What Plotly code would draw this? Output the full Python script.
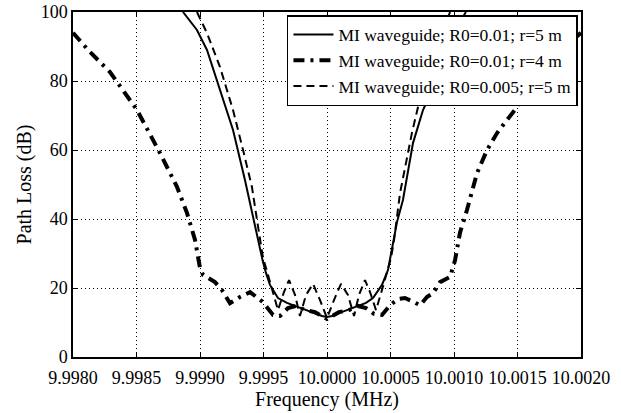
import plotly.graph_objects as go

# Frequency (MHz) and path loss (dB) for each MI waveguide configuration
freq_r0_01_r5 = [9.998866, 9.998976, 9.999055, 9.999157, 9.999260, 9.999354, 9.999417,
                 9.999472, 9.999496, 9.999520, 9.999551, 9.999614, 9.999685, 9.999748,
                 9.999811, 9.999866, 9.999921, 9.999961, 10.000000, 10.000039, 10.000079,
                 10.000134, 10.000181, 10.000244, 10.000307, 10.000362, 10.000433,
                 10.000480, 10.000520, 10.000551, 10.000598, 10.000677, 10.000756,
                 10.000835, 10.000929, 10.001008, 10.001094]
loss_r0_01_r5 = [100, 94.8, 89.0, 77.4, 65.8, 51.3, 40.6, 31.9, 27.5, 24.3, 20.9, 17.1,
                 15.7, 14.8, 13.9, 13.3, 12.5, 11.9, 11.6, 11.9, 12.5, 13.3, 13.9, 14.8,
                 15.7, 17.1, 20.9, 25.2, 32.5, 39.1, 45.5, 62.0, 71.6, 78.0, 87.5, 94.8, 100]

freq_r0_01_r4 = [9.998000, 9.998134, 9.998291, 9.998504, 9.998685, 9.998819, 9.998898,
                 9.998961, 9.999000, 9.999024, 9.999118, 9.999173, 9.999236, 9.999315,
                 9.999394, 9.999449, 9.999496, 9.999575, 9.999630, 9.999693, 9.999756,
                 9.999827, 9.999906, 10.000000, 10.000094, 10.000173, 10.000244,
                 10.000307, 10.000370, 10.000433, 10.000496, 10.000559, 10.000614,
                 10.000669, 10.000732, 10.000787, 10.000835, 10.000890, 10.000969,
                 10.001008, 10.001047, 10.001102, 10.001181, 10.001260, 10.001339,
                 10.001417, 10.001480, 10.001543, 10.001583, 10.001717, 10.001850, 10.002000]
loss_r0_01_r4 = [94.0, 88.4, 82.6, 71.6, 59.1, 49.3, 41.7, 33.9, 25.8, 23.8, 21.7, 19.4,
                 15.6, 17.4, 18.8, 17.4, 15.9, 12.2, 11.9, 14.2, 14.8, 13.6, 13.0, 11.0,
                 13.0, 13.6, 14.8, 14.2, 12.5, 12.2, 15.0, 16.8, 17.1, 16.2, 15.0, 17.4,
                 18.5, 21.7, 23.2, 28.0, 36.0, 42.6, 53.3, 60.0, 64.9, 68.7, 71.6, 75.4,
                 77.4, 83.2, 89.0, 94.0]

freq_r0_005_r5 = [9.998976, 9.999055, 9.999157, 9.999260, 9.999339, 9.999409, 9.999449,
                  9.999472, 9.999496, 9.999520, 9.999567, 9.999614, 9.999661, 9.999701,
                  9.999748, 9.999787, 9.999835, 9.999890, 9.999945, 10.000000, 10.000055,
                  10.000110, 10.000165, 10.000213, 10.000252, 10.000299, 10.000339,
                  10.000386, 10.000433, 10.000480, 10.000504, 10.000528, 10.000575,
                  10.000669, 10.000748, 10.000827, 10.000906, 10.000969]
loss_r0_005_r5 = [100, 93.9, 84.1, 71.6, 60.0, 49.3, 39.7, 33.9, 28.7, 25.8, 19.4, 13.6,
                  18.8, 22.3, 18.0, 11.9, 18.0, 21.2, 16.5, 11.3, 16.5, 21.2, 18.0, 11.9,
                  18.0, 22.3, 18.8, 13.6, 19.4, 25.8, 28.7, 33.9, 47.5, 65.0, 77.4, 86.0,
                  94.0, 100]

tick_vals = [9.9980, 9.9985, 9.9990, 9.9995, 10.0000, 10.0005, 10.0010, 10.0015, 10.0020]
tick_text = ["9.9980", "9.9985", "9.9990", "9.9995", "10.0000", "10.0005",
             "10.0010", "10.0015", "10.0020"]

FONT = "Liberation Serif, Times New Roman, serif"

fig = go.Figure()
fig.add_trace(go.Scatter(x=freq_r0_01_r5, y=loss_r0_01_r5, mode="lines",
                         name="MI waveguide; R0=0.01; r=5 m",
                         line=dict(color="black", width=2)))
fig.add_trace(go.Scatter(x=freq_r0_01_r4, y=loss_r0_01_r4, mode="lines",
                         name="MI waveguide; R0=0.01; r=4 m",
                         line=dict(color="black", width=4, dash="11px,6px,3px,6px")))
fig.add_trace(go.Scatter(x=freq_r0_005_r5, y=loss_r0_005_r5, mode="lines",
                         name="MI waveguide; R0=0.005; r=5 m",
                         line=dict(color="black", width=2, dash="8px,5px")))

axis_common = dict(
    showline=True, linecolor="black", linewidth=1.5, mirror="allticks",
    ticks="inside", ticklen=5, tickcolor="black", tickwidth=1,
    showgrid=True, gridcolor="black", gridwidth=1, griddash="1px,3px",
    zeroline=False, automargin=False,
    tickfont=dict(family=FONT, size=18, color="black"),
)

fig.update_xaxes(range=[9.998, 10.002], tickvals=tick_vals, ticktext=tick_text,
                 ticklabelstandoff=4,
                 title=dict(text="Frequency (MHz)", font=dict(family=FONT, size=20, color="black"),
                            standoff=4),
                 **axis_common)
fig.update_yaxes(range=[0, 100], dtick=20,
                 title=dict(text="Path Loss (dB)", font=dict(family=FONT, size=20, color="black"),
                            standoff=4),
                 **axis_common)

fig.update_layout(
    width=621, height=413,
    margin=dict(l=73, r=40, t=12, b=56),
    paper_bgcolor="white", plot_bgcolor="white",
    font=dict(family=FONT, color="black"),
    legend=dict(x=0.994, xanchor="right", y=0.991, yanchor="top",
                bgcolor="white", bordercolor="black", borderwidth=1.5,
                font=dict(family=FONT, size=17.5, color="black"),
                itemwidth=40, tracegroupgap=0),
    showlegend=True,
)

fig.write_html("out.html")
